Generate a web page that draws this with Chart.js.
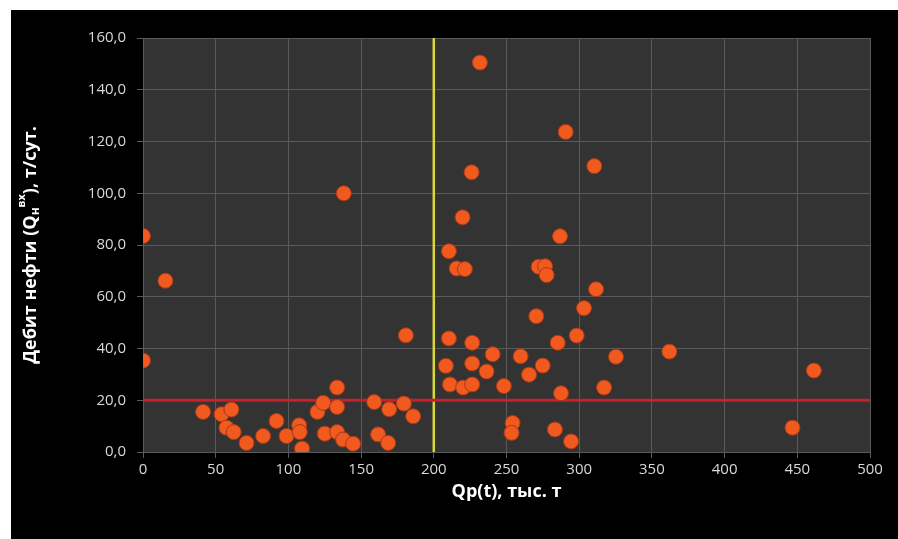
<!DOCTYPE html>
<html>
<head>
<meta charset="utf-8">
<script src="https://cdn.jsdelivr.net/npm/chart.js@4"></script>
<style>
  html, body { margin: 0; padding: 0; background: #fff; }
  #wrap { position: absolute; left: 11px; top: 10px; width: 887px; height: 529px; background: #000; }
</style>
</head>
<body>
<div id="wrap"><canvas id="chart"></canvas></div>
<script>
// Qp(t), тыс. т
const xValues = [
  0, 15.4, 0, 133.5, 41.3, 54, 60.8, 57.4, 62.4, 71.2,
  82.6, 91.8, 98.7, 107.4, 107.8, 109.4, 120, 123.9, 133.5, 125,
  133.5, 137.6, 144.5, 138.1, 159, 161.7, 168.6, 169.3, 179.4, 185.8,
  180.8, 231.7, 290.7, 310.4, 226, 219.8, 286.8, 210.4, 215.7, 221.4,
  272.1, 276.5, 277.6, 311.6, 303.3, 270.5, 210.4, 226.4, 240.5, 259.7,
  285.2, 298.3, 325.3, 362, 208.3, 226.4, 236.3, 265.5, 274.9, 211.1,
  220.2, 226.4, 248.2, 287.5, 317.1, 254.2, 253.5, 283.3, 294.4, 446.7,
  461.4
];
// Дебит нефти, т/сут.
const yValues = [
  83.5, 66.2, 35.3, 24.9, 15.5, 14.6, 16.4, 9.4, 7.7, 3.5,
  6.2, 12, 6.2, 10.3, 7.7, 1.3, 15.5, 19, 17.4, 7.1,
  7.7, 4.8, 3.2, 100, 19.3, 6.8, 3.5, 16.5, 18.7, 13.8,
  45.1, 150.5, 123.7, 110.5, 108.1, 90.7, 83.4, 77.6, 70.9, 70.7,
  71.6, 71.8, 68.4, 62.9, 55.6, 52.5, 43.9, 42.2, 37.8, 37,
  42.2, 45, 36.8, 38.8, 33.3, 34.2, 31.1, 29.9, 33.4, 26.1,
  24.9, 26.1, 25.5, 22.7, 24.9, 11.2, 7.4, 8.7, 4.1, 9.4,
  31.5
];
const xTicks = [0, 50, 100, 150, 200, 250, 300, 350, 400, 450, 500];
const yTicks = [0, 20, 40, 60, 80, 100, 120, 140, 160];
const limitY = 20;   // горизонтальная граница
const limitX = 200;  // вертикальная граница

const points = xValues.map((x, i) => ({ x: x, y: yValues[i] }));
const font = "'Open Sans', 'DejaVu Sans', sans-serif";

// plot background
const plotBg = {
  id: 'plotBg',
  beforeDraw(chart) {
    const { ctx, chartArea: a } = chart;
    ctx.save();
    ctx.fillStyle = '#333333';
    ctx.fillRect(a.left, a.top, a.right - a.left, a.bottom - a.top);
    ctx.restore();
  }
};

// y title with sub/superscript
const yTitle = {
  id: 'yTitle',
  afterDraw(chart) {
    const { ctx, chartArea: a } = chart;
    const parts = [
      { t: 'Дебит нефти (Q', size: 18, dy: 0 },
      { t: 'н', size: 12, dy: 5 },
      { t: 'вх', size: 11, dy: -9 },
      { t: '), т/сут.', size: 18, dy: 0 }
    ];
    ctx.save();
    let total = 0;
    parts.forEach(p => {
      ctx.font = 'bold ' + p.size + 'px ' + font;
      p.w = ctx.measureText(p.t).width;
      total += p.w;
    });
    ctx.translate(20, (a.top + a.bottom) / 2);
    ctx.rotate(-Math.PI / 2);
    ctx.fillStyle = '#ffffff';
    ctx.textBaseline = 'middle';
    let x = -total / 2;
    parts.forEach(p => {
      ctx.font = 'bold ' + p.size + 'px ' + font;
      ctx.fillText(p.t, x, p.dy);
      x += p.w;
    });
    ctx.restore();
  }
};

new Chart(document.getElementById('chart'), {
  type: 'scatter',
  data: {
    datasets: [
      {
        label: 'Скважины',
        data: points,
        backgroundColor: '#f05a1e',
        borderColor: '#a8381a',
        borderWidth: 1,
        pointRadius: 7.5,
        order: 0
      },
      {
        label: 'limitY',
        type: 'line',
        data: [{ x: 0, y: limitY }, { x: 500, y: limitY }],
        borderColor: '#c8202a',
        borderWidth: 3,
        pointRadius: 0,
        order: 1
      },
      {
        label: 'limitX',
        type: 'line',
        data: [{ x: limitX, y: 0 }, { x: limitX, y: 160 }],
        borderColor: '#d8d83a',
        borderWidth: 2.5,
        pointRadius: 0,
        order: 1
      }
    ]
  },
  options: {
    responsive: true,
    maintainAspectRatio: false,
    animation: false,
    layout: { padding: { top: 28, right: 28, left: 0, bottom: 0 } },
    plugins: {
      legend: { display: false },
      tooltip: { enabled: false }
    },
    scales: {
      x: {
        type: 'linear',
        min: 0,
        max: 500,
        afterBuildTicks: s => { s.ticks = xTicks.map(v => ({ value: v })); },
        afterFit: s => { s.height = 87; },
        grid: { color: '#5a5a5a', tickLength: 6 },
        border: { color: '#5a5a5a' },
        ticks: { color: '#d9d9d9', font: { family: font, size: 15 }, padding: 3 },
        title: {
          display: true,
          text: 'Qp(t), тыс. т',
          color: '#ffffff',
          font: { family: font, size: 18, weight: 'bold' },
          padding: { top: 4, bottom: 36 }
        }
      },
      y: {
        type: 'linear',
        min: 0,
        max: 160,
        afterBuildTicks: s => { s.ticks = yTicks.map(v => ({ value: v })); },
        afterFit: s => { s.width = 132; },
        grid: { color: '#5a5a5a', tickLength: 6 },
        border: { color: '#5a5a5a' },
        ticks: {
          color: '#d9d9d9',
          font: { family: font, size: 15 },
          padding: 11,
          callback: v => v.toFixed(1).replace('.', ',')
        }
      }
    }
  },
  plugins: [plotBg, yTitle]
});
</script>
</body>
</html>
